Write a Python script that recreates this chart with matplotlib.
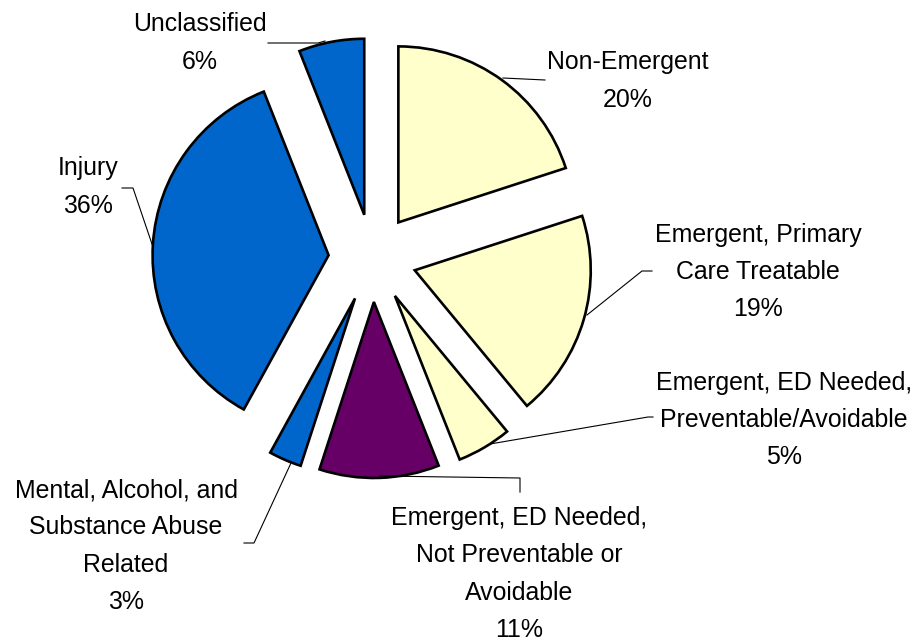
import matplotlib
matplotlib.use('Agg')
import matplotlib.pyplot as plt

plt.rcParams['font.family'] = ['Liberation Sans', 'DejaVu Sans']

# data (clockwise from 12 o'clock)
categories = ['Non-Emergent', 'Emergent, Primary\nCare Treatable',
              'Emergent, ED Needed,\nPreventable/Avoidable',
              'Emergent, ED Needed,\nNot Preventable or\nAvoidable',
              'Mental, Alcohol, and\nSubstance Abuse\nRelated',
              'Injury', 'Unclassified']
shares = [20, 19, 5, 11, 3, 36, 6]
colors = ['#FFFFCC', '#FFFFCC', '#FFFFCC', '#660066', '#0066CC', '#0066CC', '#0066CC']

W, H = 921, 641
R = 176
fig = plt.figure(figsize=(W / 100, H / 100), dpi=100)
ax = fig.add_axes([0, 0, 1, 1])

# explode offsets are in data units, so scale by the radius
ax.pie(shares, colors=colors, startangle=90, counterclock=False,
       explode=[0.25 * R] * len(shares), center=(372.5, H - 258), radius=R,
       wedgeprops=dict(edgecolor='black', linewidth=1.9))

ax.set_xlim(0, W)
ax.set_ylim(0, H)
ax.set_aspect('equal')
ax.axis('off')

# label block centres and leader lines, in picture pixels (y down)
label_pos = [(628, 81), (758, 272), (784, 420), (519, 574), (126, 546), (88, 187), (200, 43)]
leaders = [
    [(503, 78), (545, 80)],
    [(587, 315), (642, 271), (652, 271)],
    [(490, 444), (648, 417), (653, 417)],
    [(380, 476), (520, 478), (520, 492)],
    [(291, 463), (254, 543), (244, 543)],
    [(153, 247), (133, 188), (122, 188)],
    [(325, 41), (318, 43), (268, 43)],
]

for name, val, (x, y), pts in zip(categories, shares, label_pos, leaders):
    ax.text(x, H - y, f'{name}\n{val}%', ha='center', va='center',
            fontsize=17.9, linespacing=1.7, color='black')
    ax.plot([p[0] for p in pts], [H - p[1] for p in pts],
            color='black', linewidth=0.8)

fig.savefig('out.png', dpi=100, facecolor='white')
